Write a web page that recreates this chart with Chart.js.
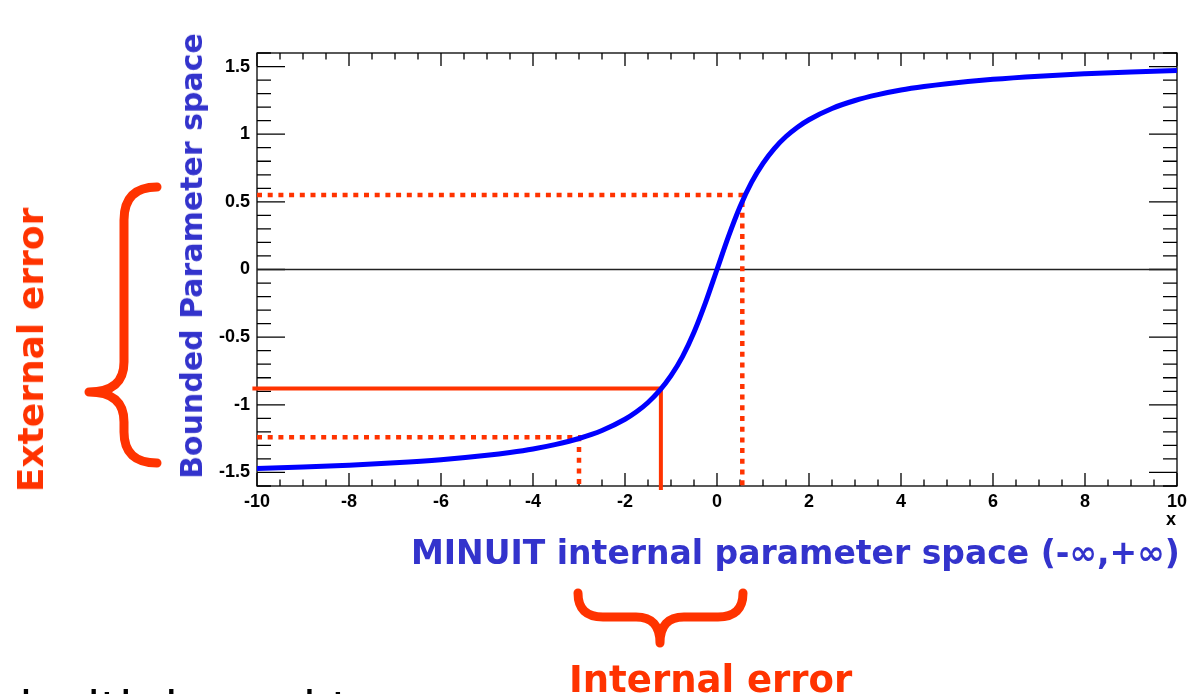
<!DOCTYPE html>
<html>
<head>
<meta charset="utf-8">
<script src="https://cdn.jsdelivr.net/npm/chart.js@4.4.1/dist/chart.umd.min.js"></script>
<style>
  html, body { margin: 0; padding: 0; background: #fff; }
  #page { position: relative; width: 1194px; height: 694px; overflow: hidden; }
  #plot { position: absolute; left: 0; top: 0; }
  .lbl { position: absolute; white-space: nowrap; font-family: 'DejaVu Sans', Verdana, sans-serif; font-weight: bold; }
  .blue { color: #3333cc; }
  .red { color: #ff3300; }
</style>
</head>
<body>
<div id="page">
  <canvas id="plot" width="1194" height="694"></canvas>

  <div class="lbl blue" id="xtitle" style="left:411px; top:536px; font-size:33px; line-height:33px;">MINUIT internal parameter space (-∞,+∞)</div>
  <div class="lbl blue" id="ytitle" style="left:192px; top:256px; font-size:30px; line-height:30px; transform: translate(-50%, -50%) rotate(-90deg);">Bounded Parameter space</div>
  <div class="lbl red" style="left:31px; top:350px; font-size:36px; line-height:36px; transform: translate(-50%, -50%) rotate(-90deg);">External error</div>
  <div class="lbl red" style="left:569px; top:661px; font-size:37px; line-height:37px;">Internal error</div>
  <div class="lbl" style="left:1166px; top:510px; font-family:'Liberation Sans', Arial, sans-serif; font-size:18px; line-height:18px;">x</div>
  <div class="lbl" style="left:2px; top:685px; font-size:48px; line-height:48px; font-weight:normal; color:#000;">d with bound to a range</div>
</div>

<script>
// --------------------------------
// || Data
// --------------------------------

const xRange = [-10, 10];
const yRange = [-1.6, 1.6];
const xTickLabels = [-10, -8, -6, -4, -2, 0, 2, 4, 6, 8, 10];
const yTickLabels = [-1.5, -1, -0.5, 0, 0.5, 1, 1.5];

// blue curve
const curveX = [-10, -9, -8, -7, -6, -5, -4.5, -4, -3.5, -3, -2.5, -2, -1.75, -1.5, -1.25, -1, -0.75, -0.5, -0.25, 0,
                0.25, 0.5, 0.75, 1, 1.25, 1.5, 1.75, 2, 2.5, 3, 3.5, 4, 4.5, 5, 6, 7, 8, 9, 10];
const curveY = [-1.471, -1.460, -1.446, -1.429, -1.406, -1.373, -1.352, -1.326, -1.292, -1.249, -1.190, -1.107, -1.052, -0.983, -0.896, -0.785, -0.644, -0.464, -0.245, 0,
                0.245, 0.464, 0.644, 0.785, 0.896, 0.983, 1.052, 1.107, 1.190, 1.249, 1.292, 1.326, 1.352, 1.373, 1.406, 1.429, 1.446, 1.460, 1.471];

// red guide lines: [x, y] of the corner
const solidMark = [-1.22, -0.88];
const dotLow = [-3, -1.24];
const dotHigh = [0.55, 0.55];

// --------------------------------
// || Helpers
// --------------------------------

const RED = '#ff3300';

function guide(corner, xStart, yEnd) {
    return [
        { x: xStart, y: corner[1] },
        { x: corner[0], y: corner[1] },
        { x: corner[0], y: yEnd }
    ];
}

// ROOT style frame with ticks drawn inward on all four sides
const rootAxes = {
    id: 'rootAxes',
    beforeDatasetsDraw(chart) {
        const { ctx, chartArea: a, scales: { x, y } } = chart;
        ctx.save();
        ctx.strokeStyle = '#000';
        ctx.lineWidth = 1.3;
        ctx.beginPath();
        for (let i = 0; i <= (xRange[1] - xRange[0]) * 2; i++) {
            const v = xRange[0] + i * 0.5;
            const px = x.getPixelForValue(v);
            const len = v % 2 === 0 ? 13 : 6.5;
            ctx.moveTo(px, a.bottom); ctx.lineTo(px, a.bottom - len);
            ctx.moveTo(px, a.top); ctx.lineTo(px, a.top + len);
        }
        for (let i = 0; i <= Math.round((yRange[1] - yRange[0]) * 10); i++) {
            const v = yRange[0] + i * 0.1;
            const py = y.getPixelForValue(v);
            const major = Math.abs(v * 2 - Math.round(v * 2)) < 1e-6;
            const len = major ? 28 : 14;
            ctx.moveTo(a.left, py); ctx.lineTo(a.left + len, py);
            ctx.moveTo(a.right, py); ctx.lineTo(a.right - len, py);
        }
        ctx.stroke();
        ctx.strokeRect(a.left, a.top, a.right - a.left, a.bottom - a.top);
        ctx.restore();
    }
};

// the two curly braces
const braces = {
    id: 'braces',
    afterDraw(chart) {
        const ctx = chart.ctx;
        ctx.save();
        ctx.strokeStyle = RED;
        ctx.lineWidth = 9;
        ctx.lineCap = 'round';
        ctx.lineJoin = 'round';

        ctx.beginPath();
        ctx.moveTo(157, 187);
        ctx.quadraticCurveTo(124, 187, 124, 220);
        ctx.lineTo(124, 362);
        ctx.quadraticCurveTo(124, 392, 89, 392);
        ctx.quadraticCurveTo(124, 392, 124, 422);
        ctx.lineTo(124, 432);
        ctx.quadraticCurveTo(124, 463, 157, 463);
        ctx.stroke();

        ctx.beginPath();
        ctx.moveTo(578, 593);
        ctx.quadraticCurveTo(578, 617, 603, 617);
        ctx.lineTo(636, 617);
        ctx.quadraticCurveTo(660, 617, 660, 643);
        ctx.quadraticCurveTo(660, 617, 684, 617);
        ctx.lineTo(718, 617);
        ctx.quadraticCurveTo(743, 617, 743, 593);
        ctx.stroke();
        ctx.restore();
    }
};

// --------------------------------
// || Chart
// --------------------------------

const tickFont = { family: "'Liberation Sans', Arial, sans-serif", weight: 'bold', size: 18 };

new Chart(document.getElementById('plot'), {
    type: 'line',
    data: {
        datasets: [
            {
                data: curveX.map((v, i) => ({ x: v, y: curveY[i] })),
                borderColor: '#0000ff',
                borderWidth: 5,
                cubicInterpolationMode: 'monotone'
            },
            {
                data: guide(solidMark, -10.1, -1.63),
                borderColor: RED,
                borderWidth: 4,
                borderCapStyle: 'butt',
                clip: false
            },
            {
                data: guide(dotHigh, -10, yRange[0]),
                borderColor: RED,
                borderWidth: 4.5,
                borderDash: [5, 5.7],
                clip: false
            },
            {
                data: guide(dotLow, -10, yRange[0]),
                borderColor: RED,
                borderWidth: 4.5,
                borderDash: [5, 5.7],
                clip: false
            },
            {
                data: [{ x: xRange[0], y: 0 }, { x: xRange[1], y: 0 }],
                borderColor: '#222',
                borderWidth: 1.3
            }
        ]
    },
    options: {
        responsive: false,
        animation: false,
        devicePixelRatio: 1,
        layout: { padding: { left: 0, top: 53, right: 17, bottom: 0 } },
        elements: { point: { radius: 0 }, line: { tension: 0 } },
        plugins: { legend: { display: false }, tooltip: { enabled: false } },
        scales: {
            x: {
                type: 'linear',
                min: xRange[0],
                max: xRange[1],
                grid: { display: false, drawTicks: false },
                border: { display: false },
                afterBuildTicks: s => { s.ticks = xTickLabels.map(v => ({ value: v })); },
                afterFit: s => { s.height = 208; },
                ticks: { font: tickFont, color: '#000', padding: 5, maxRotation: 0, autoSkip: false, callback: v => String(v) }
            },
            y: {
                type: 'linear',
                min: yRange[0],
                max: yRange[1],
                grid: { display: false, drawTicks: false },
                border: { display: false },
                afterBuildTicks: s => { s.ticks = yTickLabels.map(v => ({ value: v })); },
                afterFit: s => { s.width = 257; },
                ticks: { font: tickFont, color: '#000', padding: 7, autoSkip: false, callback: v => String(v) }
            }
        }
    },
    plugins: [rootAxes, braces]
});
</script>
</body>
</html>
